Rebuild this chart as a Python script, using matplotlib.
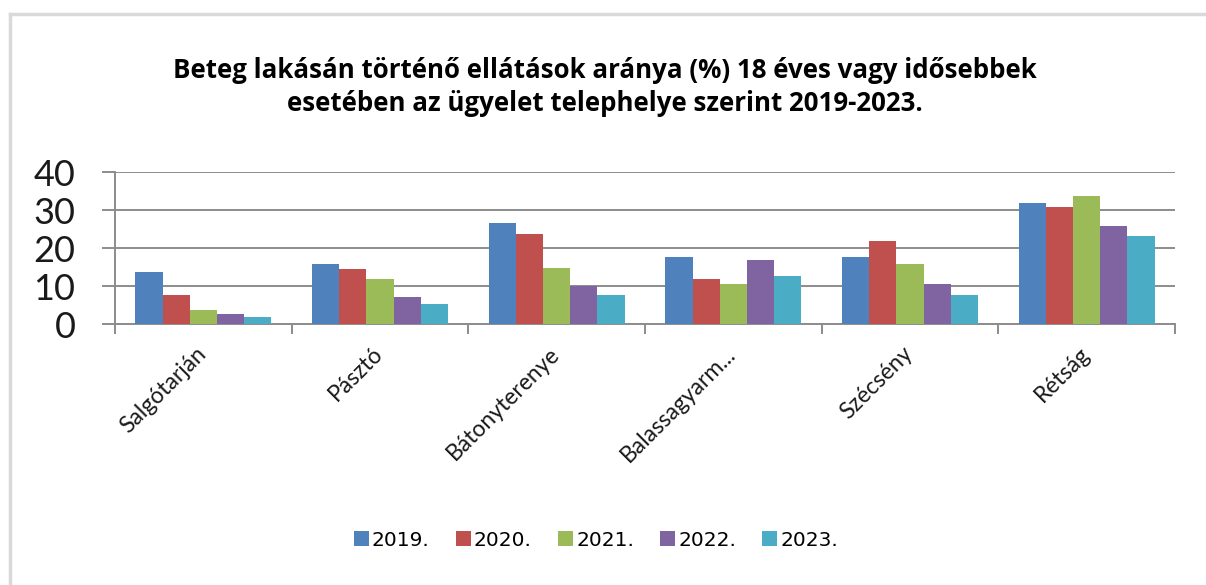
import matplotlib
matplotlib.use("Agg")
import matplotlib.pyplot as plt
import matplotlib.transforms as mtrans
import numpy as np
from matplotlib.lines import Line2D
from matplotlib.patches import Patch

# Data
sites = ["Salgótarján", "Pásztó", "Bátonyterenye", "Balassagyarm...", "Szécsény", "Rétság"]
years = ["2019.", "2020.", "2021.", "2022.", "2023."]
v2019 = [13.7, 15.7, 26.7, 17.7, 17.7, 31.8]
v2020 = [7.6, 14.6, 23.8, 11.8, 21.8, 30.7]
v2021 = [3.6, 11.8, 14.7, 10.6, 15.7, 33.8]
v2022 = [2.6, 7.2, 10.0, 16.8, 10.6, 25.7]
v2023 = [1.75, 5.2, 7.6, 12.7, 7.6, 23.2]
series = [v2019, v2020, v2021, v2022, v2023]
colors = ["#4F81BD", "#C0504D", "#9BBB59", "#8064A2", "#4BACC6"]
yticks = [0, 10, 20, 30, 40]

title = ("Beteg lakásán történő ellátások aránya (%) 18 éves vagy idősebbek\n"
         "esetében az ügyelet telephelye szerint 2019-2023.")

W, H = 1206, 585
fig = plt.figure(figsize=(W / 100, H / 100), dpi=100)
fig.patch.set_facecolor("white")

# Chart frame (top and left edges)
fig.add_artist(Line2D([10 / W, 10 / W], [0, 1 - 14 / H], transform=fig.transFigure,
                      color="#d9d9d9", lw=2.5))
fig.add_artist(Line2D([10 / W, 1], [1 - 14 / H, 1 - 14 / H], transform=fig.transFigure,
                      color="#d9d9d9", lw=2.5))

ax = fig.add_axes([115 / W, 1 - 324 / H, (1175 - 115) / W, (324 - 172) / H])

n = len(series)
w = 1 / 6.5
x = np.arange(len(sites))
for i, (vals, c) in enumerate(zip(series, colors)):
    ax.bar(x + (i - (n - 1) / 2) * w, vals, width=w, color=c, label=years[i], zorder=3)

ax.set_xlim(-0.5, len(sites) - 0.5)
ax.set_ylim(0, 40)
ax.set_yticks(yticks)
ax.set_yticklabels([str(t) for t in yticks], fontsize=26, family="Lato", color="#1a1a1a")
ax.tick_params(axis="y", length=9.5, width=1.4, color="#8c8c8c", pad=19)
ax.grid(axis="y", color="#8c8c8c", lw=1.4, zorder=0)

for s in ["top", "right"]:
    ax.spines[s].set_visible(False)
ax.spines["left"].set_color("#8c8c8c")
ax.spines["left"].set_linewidth(1.4)
ax.spines["bottom"].set_color("#8c8c8c")
ax.spines["bottom"].set_linewidth(1.4)

ax.set_xticks(x)
ax.set_xticklabels(sites, rotation=45, ha="right", rotation_mode="anchor",
                   fontsize=16.5, family="Lato", color="#1a1a1a")
ax.tick_params(axis="x", length=0, pad=18)
shift = mtrans.ScaledTranslation(-8 / 100, 6 / 100, fig.dpi_scale_trans)
for lbl in ax.get_xticklabels():
    lbl.set_transform(lbl.get_transform() + shift)
ax.set_xticks(np.arange(-0.5, len(sites)), minor=True)
ax.tick_params(axis="x", which="minor", length=7, width=1.4, color="#8c8c8c")

fig.text(605 / W, 1 - 87 / H, title, ha="center", va="center", fontsize=18.6,
         fontweight="bold", family="Open Sans", linespacing=1.3, color="#000000")

handles = [Patch(facecolor=c, edgecolor="none") for c in colors]
fig.legend(handles, years, loc="center", bbox_to_anchor=(596 / W, 1 - 540 / H),
           ncol=5, frameon=False, handlelength=0.75, handleheight=0.75,
           handletextpad=0.15, columnspacing=1.3,
           prop={"family": "DejaVu Sans", "size": 14.5})

fig.savefig("out.png", dpi=100, facecolor="white")
